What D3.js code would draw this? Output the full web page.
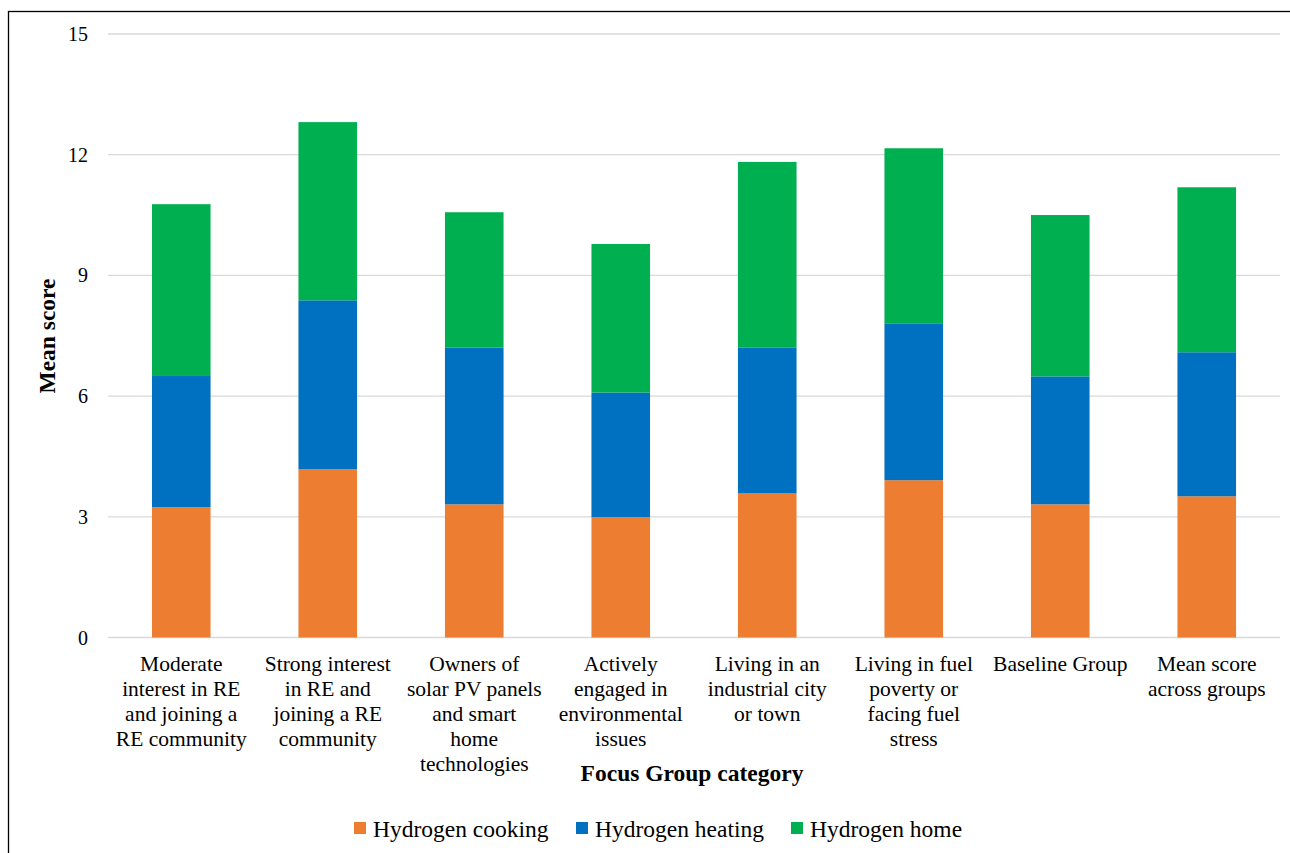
<!DOCTYPE html>
<html><head><meta charset="utf-8">
<script src="https://cdn.jsdelivr.net/npm/d3@7"></script>
<style>body{margin:0;background:#fff}svg{display:block}text{font-family:"Liberation Serif","Times New Roman",serif}</style>
</head><body><svg id="c" width="1290" height="853"></svg>
<script>
const categories = [
  ["Moderate","interest in RE","and joining a","RE community"],
  ["Strong interest","in RE and","joining a RE","community"],
  ["Owners of","solar PV panels","and smart","home","technologies"],
  ["Actively","engaged in","environmental","issues"],
  ["Living in an","industrial city","or town"],
  ["Living in fuel","poverty or","facing fuel","stress"],
  ["Baseline Group"],
  ["Mean score","across groups"]
];
const seriesNames = ["Hydrogen cooking","Hydrogen heating","Hydrogen home"];
const cooking = [3.24, 4.18, 3.31, 2.99, 3.58, 3.91, 3.31, 3.51];
const heating = [3.26, 4.20, 3.90, 3.10, 3.62, 3.90, 3.18, 3.58];
const home    = [4.27, 4.43, 3.36, 3.69, 4.62, 4.35, 4.01, 4.10];
const yTicks = [0, 3, 6, 9, 12, 15];
const colors = ["#ED7D31","#0070C0","#00B050"];

const svg = d3.select("#c");
// frame
svg.append("rect").attr("x",8.5).attr("y",11.5).attr("width",1300).attr("height",900)
  .attr("fill","none").attr("stroke","#000").attr("stroke-width",1.3);

const m = {left:108, right:1280, top:34, bottom:637.5};
const x = d3.scaleBand().domain(d3.range(categories.length)).range([m.left,m.right]).paddingInner(0.6).paddingOuter(0.3);
const y = d3.scaleLinear().domain([0,15]).range([m.bottom,m.top]);

// gridlines
svg.append("g").selectAll("line").data(yTicks).join("line")
  .attr("x1",m.left).attr("x2",m.right).attr("y1",d=>y(d)).attr("y2",d=>y(d))
  .attr("stroke","#d9d9d9").attr("stroke-width",1.3);

// y tick labels
svg.append("g").selectAll("text").data(yTicks).join("text")
  .attr("x",88).attr("y",d=>y(d)).attr("dy","0.35em").attr("text-anchor","end")
  .attr("font-size",20).attr("fill","#000").text(d=>d);

// stacked
const rows = categories.map((c,i)=>({i, c0:cooking[i], c1:heating[i], c2:home[i]}));
const stack = d3.stack().keys(["c0","c1","c2"])(rows);
svg.append("g").selectAll("g").data(stack).join("g").attr("fill",(d,k)=>colors[k])
  .selectAll("rect").data(d=>d).join("rect")
  .attr("x",d=>x(d.data.i)).attr("width",x.bandwidth())
  .attr("y",d=>y(d[1])).attr("height",d=>y(d[0])-y(d[1]));

// x labels
const xl = svg.append("g");
categories.forEach((lines,i)=>{
  const t = xl.append("text").attr("text-anchor","middle").attr("font-size",21.5).attr("fill","#000");
  lines.forEach((ln,j)=>t.append("tspan").attr("x",x(i)+x.bandwidth()/2).attr("y",670.5+j*25).text(ln));
});

// axis titles
svg.append("text").attr("x",692).attr("y",781).attr("text-anchor","middle").attr("font-size",23.5)
  .attr("font-weight","bold").text("Focus Group category");
svg.append("text").attr("transform","translate(55,336) rotate(-90)").attr("text-anchor","middle")
  .attr("font-size",23.5).attr("font-weight","bold").text("Mean score");

// legend
const legX = [354, 576, 791];
const lg = svg.append("g");
seriesNames.forEach((n,k)=>{
  lg.append("rect").attr("x",legX[k]).attr("y",822).attr("width",12).attr("height",12).attr("fill",colors[k]);
  lg.append("text").attr("x",legX[k]+19).attr("y",836.5).attr("font-size",23.5).text(n);
});
</script></body></html>
